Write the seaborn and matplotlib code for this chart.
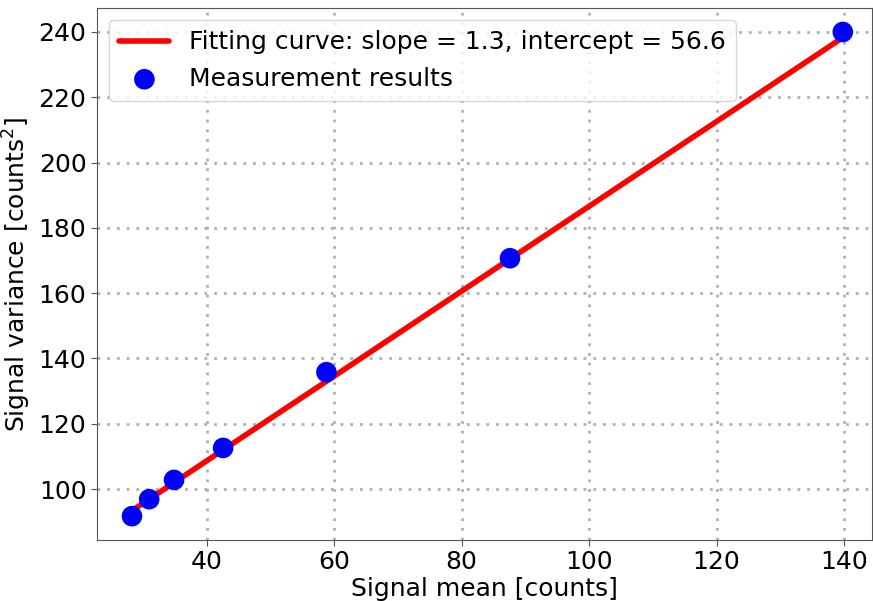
import seaborn as sns
import matplotlib.pyplot as plt
import pandas as pd

signal_mean = [28.3, 31.0, 34.9, 42.6, 58.8, 87.6, 139.8]
signal_var = [91.7, 96.9, 102.8, 112.6, 135.8, 170.7, 240.0]
# fitted line values at the same means
fit_var = [93.4, 96.9, 102.0, 112.0, 133.0, 170.5, 238.3]

pts = pd.DataFrame({'mean': signal_mean, 'var': signal_var})
fit = pd.DataFrame({'mean': signal_mean, 'var': fit_var})

sns.set_style('white')
plt.rcParams['font.family'] = ['DejaVu Sans']
plt.rcParams['text.color'] = 'black'
plt.rcParams['axes.labelcolor'] = 'black'

fig = plt.figure(figsize=(8.73, 6.01), dpi=100)
ax = fig.add_axes([0.111, 0.1015, 0.888, 0.8855])

sns.lineplot(data=fit, x='mean', y='var', color='red', linewidth=4,
             label='Fitting curve: slope = 1.3, intercept = 56.6', ax=ax, zorder=2)
sns.scatterplot(data=pts, x='mean', y='var', color='blue', s=220, edgecolor='none',
                label='Measurement results', ax=ax, zorder=3)

ax.set_xlim(22.8, 144.4)
ax.set_ylim(84.4, 247.4)
ax.set_xticks([40, 60, 80, 100, 120, 140])
ax.set_yticks([100, 120, 140, 160, 180, 200, 220, 240])
ax.grid(True, linestyle=(0, (1, 2.5)), color='#b0b0b0', linewidth=2)
ax.set_axisbelow(True)
ax.tick_params(labelsize=18, direction='out', length=4, left=True, bottom=True,
               colors='#555555', labelcolor='black')
ax.set_xlabel('Signal mean [counts]', fontsize=18, labelpad=2)
ax.set_ylabel('Signal variance [counts$^2$]', fontsize=18, labelpad=4)
for side in ['left', 'bottom', 'top', 'right']:
    ax.spines[side].set_color('#555555')

leg = ax.legend(loc='upper left', fontsize=18, markerscale=1.0, framealpha=0.8,
                handlelength=2.0, borderaxespad=0.5)

plt.savefig('out.png', dpi=100)
